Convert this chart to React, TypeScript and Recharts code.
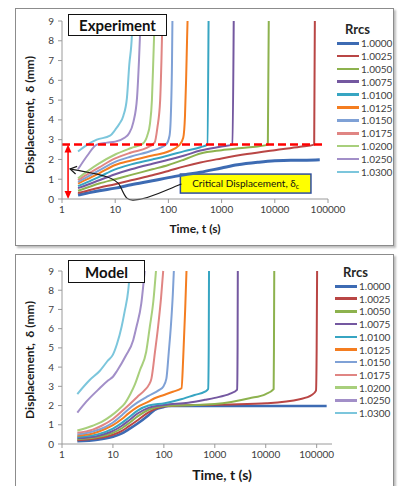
import React from 'react';
import { LineChart, Line, XAxis, YAxis, ReferenceLine, ReferenceArea } from 'recharts';

type Pt = [number, number];

const rrcsLabels = ['1.0000', '1.0025', '1.0050', '1.0075', '1.0100', '1.0125', '1.0150', '1.0175', '1.0200', '1.0250', '1.0300'];
const seriesColors = ['#3D6BB3', '#B94645', '#8DB24E', '#7458A0', '#37A5C2', '#F47D20', '#7FA1D6', '#E08583', '#A8CF7C', '#A28FC8', '#7CC6DC'];

const expTicksX = [1, 10, 100, 1000, 10000, 100000];
const modelTicksX = [1, 10, 100, 1000, 10000, 100000];
const yTicks = [0, 1, 2, 3, 4, 5, 6, 7, 8, 9];
const criticalDisp = 2.75;

// Experiment: [time (s), displacement (mm)]
const expR10000: Pt[] = [[2, 0.2], [3, 0.3], [5, 0.42], [10, 0.55], [20, 0.72], [50, 0.92], [100, 1.08], [200, 1.22], [400, 1.35], [1000, 1.57], [2000, 1.73], [5000, 1.86], [10000, 1.93], [20000, 1.96], [40000, 1.96], [70000, 1.98]];
const expR10025: Pt[] = [[2, 0.3], [3, 0.42], [5, 0.57], [10, 0.75], [20, 0.95], [50, 1.2], [100, 1.42], [200, 1.65], [400, 1.85], [1000, 2.05], [3000, 2.27], [10000, 2.47], [30000, 2.64], [55000, 2.75], [56600, 9]];
const expR10050: Pt[] = [[2, 0.42], [3, 0.58], [5, 0.78], [10, 1.0], [20, 1.22], [50, 1.5], [100, 1.72], [200, 2.0], [400, 2.3], [1000, 2.47], [3000, 2.6], [7400, 2.75], [7700, 9]];
const expR10075: Pt[] = [[2, 0.55], [3, 0.72], [5, 0.95], [10, 1.25], [20, 1.5], [50, 1.78], [100, 1.98], [200, 2.2], [400, 2.45], [1000, 2.65], [1600, 2.75], [1690, 9]];
const expR10100: Pt[] = [[2, 0.65], [3, 0.85], [5, 1.12], [10, 1.5], [20, 1.75], [50, 2.0], [100, 2.2], [200, 2.42], [400, 2.62], [540, 2.75], [569, 9]];
const expR10125: Pt[] = [[2, 0.78], [3, 1.0], [5, 1.3], [10, 1.72], [20, 1.95], [50, 2.2], [100, 2.4], [160, 2.72], [190, 3.1], [205, 4.2], [215, 6], [224, 8], [229, 9]];
const expR10150: Pt[] = [[2, 0.87], [3, 1.12], [5, 1.45], [10, 1.88], [20, 2.15], [50, 2.45], [90, 2.75], [105, 3.2], [112, 4.5], [117, 7], [119, 9]];
const expR10175: Pt[] = [[2, 0.96], [3, 1.25], [5, 1.6], [10, 2.05], [20, 2.35], [40, 2.6], [55, 2.85], [62, 3.6], [70, 5], [74, 7], [77, 9]];
const expR10200: Pt[] = [[2, 1.05], [3, 1.4], [5, 1.8], [10, 2.25], [20, 2.58], [33, 2.8], [40, 3.2], [45, 3.8], [49, 5], [52, 7], [55, 9]];
const expR10250: Pt[] = [[2, 1.5], [3, 2.2], [4.5, 2.75], [7, 2.85], [10, 2.9], [15, 3.1], [18, 3.3], [22, 3.9], [25.7, 5.1], [28, 7], [30, 9]];
const expR10300: Pt[] = [[2, 2.4], [3, 2.75], [4.5, 3.0], [8, 3.2], [10, 3.5], [12, 3.8], [14.2, 4.2], [16.6, 5.1], [18.4, 6.8], [20.6, 8.3], [21, 9]];

// Model: [time (s), displacement (mm)]
const modR10000: Pt[] = [[2, 0.14], [5, 0.22], [10, 0.38], [15, 0.55], [20, 0.75], [31, 1.08], [50, 1.5], [66, 1.77], [100, 1.93], [121, 1.98], [1000, 1.98], [157000, 1.98]];
const modR10025: Pt[] = [[2, 0.2], [5, 0.3], [10, 0.48], [15, 0.68], [20, 0.9], [31, 1.25], [50, 1.65], [100, 1.95], [200, 2.0], [500, 2.03], [2000, 2.06], [10300, 2.12], [46500, 2.33], [80000, 2.55], [97000, 2.78], [100000, 5], [102000, 9]];
const modR10050: Pt[] = [[2, 0.25], [5, 0.36], [10, 0.58], [15, 0.82], [20, 1.05], [31, 1.45], [50, 1.78], [100, 1.98], [300, 2.02], [1000, 2.08], [4800, 2.38], [10000, 2.6], [14300, 2.85], [14500, 5], [14700, 9]];
const modR10075: Pt[] = [[2, 0.3], [5, 0.42], [10, 0.68], [15, 0.95], [20, 1.2], [31, 1.6], [50, 1.88], [100, 2.03], [300, 2.15], [640, 2.3], [1000, 2.4], [2000, 2.62], [2750, 2.83], [2800, 5], [2830, 9]];
const modR10100: Pt[] = [[2, 0.36], [5, 0.5], [10, 0.8], [15, 1.1], [20, 1.35], [31, 1.75], [50, 2.0], [104, 2.12], [200, 2.3], [400, 2.55], [640, 2.72], [740, 2.86], [760, 5], [770, 9]];
const modR10125: Pt[] = [[2, 0.43], [4, 0.55], [7, 0.78], [10, 0.98], [15, 1.3], [20, 1.58], [30, 1.92], [50, 2.2], [66, 2.38], [100, 2.55], [150, 2.72], [222, 2.9], [240, 4.5], [262, 7], [278, 9]];
const modR10150: Pt[] = [[2, 0.5], [4, 0.65], [7, 0.88], [10, 1.12], [15, 1.5], [20, 1.8], [30, 2.15], [50, 2.5], [80, 2.8], [97, 2.98], [112, 3.4], [125, 4.8], [137, 6.1], [150, 7.8], [157, 9]];
const modR10175: Pt[] = [[2, 0.58], [4, 0.75], [6, 0.95], [10, 1.3], [15, 1.7], [20, 2.0], [30, 2.45], [42, 2.8], [50, 3.05], [57, 3.4], [67, 4.8], [77, 6.1], [88, 7.6], [97, 9]];
const modR10200: Pt[] = [[2, 0.7], [4, 0.95], [6, 1.15], [9, 1.45], [13, 1.8], [17, 2.1], [22, 2.6], [27, 3.1], [34, 3.85], [45, 4.8], [53, 6.1], [62, 7.4], [70, 9]];
const modR10250: Pt[] = [[2, 1.63], [3, 2.2], [5.5, 2.9], [8, 3.3], [10, 3.5], [12, 3.8], [18, 4.6], [25, 5.4], [29, 6.1], [36, 7.3], [42, 9]];
const modR10300: Pt[] = [[2, 2.6], [3.5, 3.33], [5.5, 3.8], [8, 4.35], [10, 4.65], [12, 5.2], [14.8, 6.1], [17, 6.9], [20, 8.0], [21.6, 9]];

const expSeries = [expR10000, expR10025, expR10050, expR10075, expR10100, expR10125, expR10150, expR10175, expR10200, expR10250, expR10300];
const modelSeries = [modR10000, modR10025, modR10050, modR10075, modR10100, modR10125, modR10150, modR10175, modR10200, modR10250, modR10300];

const FONT = "Lato, 'Open Sans', sans-serif";
const AXIS_GREY = '#9A9A9A';
const TICK_TEXT = '#404040';

const toPts = (s: Pt[]) => s.map(([t, d]) => ({ t, d }));

const tickStyle = { fontSize: 10, fill: TICK_TEXT, fontFamily: FONT };

function RedDoubleArrow(p: any) {
  const { x1, y1, x2, y2 } = p;
  const top = Math.min(y1, y2);
  const bot = Math.max(y1, y2);
  const x = x1;
  return (
    <g>
      <line x1={x} y1={top + 3} x2={x} y2={bot - 3} stroke="#FF0000" strokeWidth={1.5} />
      <polygon points={`${x},${top} ${x - 3.5},${top + 8} ${x + 3.5},${top + 8}`} fill="#FF0000" />
      <polygon points={`${x},${bot} ${x - 3.5},${bot - 8} ${x + 3.5},${bot - 8}`} fill="#FF0000" />
    </g>
  );
}

function CurvedArrow(p: any) {
  const { x1, y1, x2, y2 } = p;
  const d = `M${x1},${y1} C${x1 + 25},${y1 + 5} ${x1 + 45},${y1 + 7} ${x1 + 50},${y1 + 17} C${x1 + 55},${y1 + 28} ${x1 + 56},${y1 + 32} ${x1 + 65},${y1 + 31} C${x1 + 80},${y1 + 30} ${x2 - 16},${y2 + 6} ${x2},${y2}`;
  return (
    <g>
      <path d={d} fill="none" stroke="#1A1A1A" strokeWidth={1.2} />
      <polyline points={`${x1 + 7},${y1 - 2.5} ${x1},${y1} ${x1 + 5.5},${y1 + 5}`} fill="none" stroke="#1A1A1A" strokeWidth={1.2} />
    </g>
  );
}

function LabelBox(p: any) {
  const { x, y, width, height } = p;
  return (
    <g>
      <rect x={x} y={y} width={width} height={height} fill="#FFFF00" stroke="#2E4E9E" strokeWidth={1.5} />
      <text x={x + width / 2} y={y + height / 2 + 3.5} textAnchor="middle" fontSize={10} fontFamily={FONT} fill="#111">
        Critical Displacement, δ<tspan fontSize={7} dy={2}>c</tspan>
      </text>
    </g>
  );
}

function Legend({ left, top, step, titleTop }: { left: number; top: number; step: number; titleTop: number }) {
  return (
    <>
      <div style={{ position: 'absolute', left: left + 8, top: titleTop - 9, fontFamily: FONT, fontWeight: 700, fontSize: 13, color: '#262626', lineHeight: '18px' }}>Rrcs</div>
      {rrcsLabels.map((lab, i) => (
        <div key={lab} style={{ position: 'absolute', left, top: top + i * step - 7, height: 14, display: 'flex', alignItems: 'center' }}>
          <div style={{ width: 22, height: i === 0 ? 3 : 2.5, background: seriesColors[i] }} />
          <span style={{ marginLeft: 2, fontFamily: FONT, fontSize: 10, color: TICK_TEXT }}>{lab}</span>
        </div>
      ))}
    </>
  );
}

function Panel({ top, height }: { top: number; height: number }) {
  return <div style={{ position: 'absolute', left: 15, top, width: 377, height, border: '1px solid #8C8C8C', boxShadow: '2px 2px 2px #BDBDBD', background: '#fff' }} />;
}

function TitleBox({ left, top, width, height, text }: any) {
  return (
    <div style={{ position: 'absolute', left, top, width, height, boxSizing: 'border-box', border: '1.5px solid #111', background: '#fff', display: 'flex', alignItems: 'center', justifyContent: 'center', fontFamily: FONT, fontWeight: 700, fontSize: 15, color: '#111' }}>{text}</div>
  );
}

export default function App() {
  return (
    <div style={{ position: 'absolute', left: 0, top: 0, width: 401, height: 486, background: '#fff', overflow: 'hidden' }}>
      <Panel top={8} height={236} />
      <Panel top={254} height={240} />

      {/* Experiment chart */}
      <div style={{ position: 'absolute', left: 0, top: 0 }}>
        <LineChart width={401} height={245} margin={{ top: 21, right: 73, bottom: 16, left: 32 }}>
          <XAxis type="number" dataKey="t" scale="log" domain={[1, 100000]} ticks={expTicksX} allowDataOverflow
            tick={tickStyle} tickSize={4} tickMargin={3} stroke={AXIS_GREY} tickFormatter={(v: number) => String(v)} />
          <YAxis type="number" domain={[0, 9]} ticks={yTicks} width={30} tick={tickStyle} tickSize={4} tickMargin={4} stroke={AXIS_GREY} />
          <ReferenceArea x1={168} x2={47800} y1={0.3} y2={1.26} shape={LabelBox} />
          {expSeries.map((s, i) => (
            <Line key={rrcsLabels[i]} data={toPts(s)} dataKey="d" name={rrcsLabels[i]} type="monotone" stroke={seriesColors[i]}
              strokeWidth={i === 0 ? 3 : 2} dot={false} isAnimationActive={false} />
          ))}
          <ReferenceLine segment={[{ x: 1, y: criticalDisp }, { x: 80000, y: criticalDisp }]} stroke="#FF0000" strokeWidth={2.5} strokeDasharray="8 4" />
          <ReferenceLine segment={[{ x: 1.3, y: 0 }, { x: 1.3, y: criticalDisp }]} shape={RedDoubleArrow} />
          <ReferenceLine segment={[{ x: 1.42, y: 1.52 }, { x: 176, y: 0.76 }]} shape={CurvedArrow} />
        </LineChart>
      </div>

      {/* Model chart */}
      <div style={{ position: 'absolute', left: 0, top: 245 }}>
        <LineChart width={401} height={241} margin={{ top: 26, right: 69, bottom: 12, left: 32 }}>
          <XAxis type="number" dataKey="t" scale="log" domain={[1, 200000]} ticks={modelTicksX} allowDataOverflow
            tick={tickStyle} tickSize={4} tickMargin={3} stroke={AXIS_GREY} tickFormatter={(v: number) => String(v)} />
          <YAxis type="number" domain={[0, 9]} ticks={yTicks} width={30} tick={tickStyle} tickSize={4} tickMargin={4} stroke={AXIS_GREY} />
          {modelSeries.map((s, i) => (
            <Line key={rrcsLabels[i]} data={toPts(s)} dataKey="d" name={rrcsLabels[i]} type="monotone" stroke={seriesColors[i]}
              strokeWidth={i === 0 ? 2.6 : 2} dot={false} isAnimationActive={false} />
          ))}
        </LineChart>
      </div>

      <TitleBox left={68} top={14} width={99} height={22} text="Experiment" />
      <TitleBox left={68} top={260} width={77} height={23} text="Model" />

      {/* Axis titles */}
      <div style={{ position: 'absolute', left: 29, top: 115, transform: 'translate(-50%,-50%) rotate(-90deg)', whiteSpace: 'pre', fontFamily: FONT, fontWeight: 700, fontSize: 12, color: '#1A1A1A' }}>Displacement,  δ (mm)</div>
      <div style={{ position: 'absolute', left: 195, top: 228, transform: 'translate(-50%,-50%)', whiteSpace: 'pre', fontFamily: FONT, fontWeight: 700, fontSize: 12, color: '#1A1A1A' }}>Time, t (s)</div>
      <div style={{ position: 'absolute', left: 29, top: 360, transform: 'translate(-50%,-50%) rotate(-90deg)', whiteSpace: 'pre', fontFamily: FONT, fontWeight: 700, fontSize: 12, color: '#1A1A1A' }}>Displacement,  δ (mm)</div>
      <div style={{ position: 'absolute', left: 222, top: 474, transform: 'translate(-50%,-50%)', whiteSpace: 'pre', fontFamily: FONT, fontWeight: 700, fontSize: 14, color: '#1A1A1A' }}>Time, t (s)</div>

      <Legend left={337} top={43} step={12.9} titleTop={29} />
      <Legend left={335} top={286} step={12.7} titleTop={272} />
    </div>
  );
}
